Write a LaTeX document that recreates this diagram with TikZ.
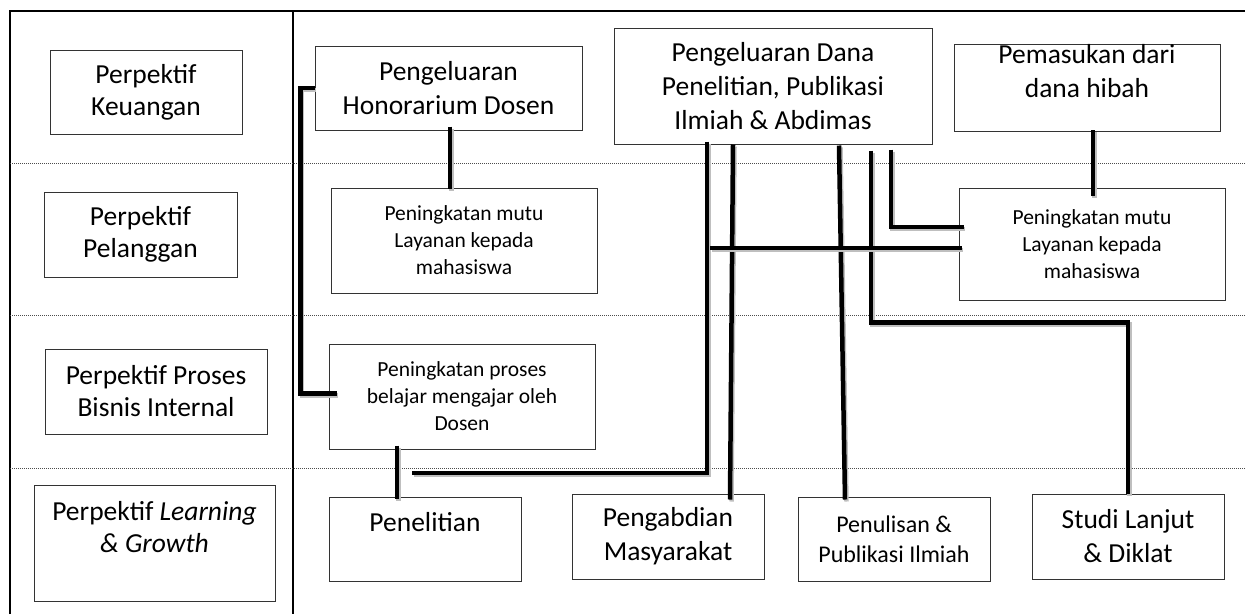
\documentclass[tikz,border=0pt]{standalone}
\usepackage{fontspec}
\setmainfont{Carlito}
\usetikzlibrary{arrows,positioning}
\tikzset{kotak/.style={draw=black!80,line width=1pt,rectangle,align=center,inner sep=0pt}}
\tikzset{hubung/.style={line width=4.5pt,
    preaction={draw=black!25,line width=4.5pt,transform canvas={shift={(1.5pt,-2pt)}}}}}
\tikzset{batas/.style={draw=black!70,line width=0.8pt,dash pattern=on 1pt off 1pt}}
\newcommand{\besar}{\fontsize{27.5}{34}\selectfont}
\newcommand{\kiri}{\fontsize{27.5}{32}\selectfont}
\newcommand{\sedang}{\fontsize{24}{30}\selectfont}
\newcommand{\kecil}{\fontsize{21.5}{27}\selectfont}

\begin{document}
\begin{tikzpicture}[x=1pt,y=-1pt]
  \useasboundingbox (0,0) rectangle (1245,614);
  % frame and rows
  \draw[line width=2pt] (10,614)--(10,11)--(1245,11);
  \draw[line width=2pt] (293,11)--(293,614);
  \foreach \y in {163,315,468}{
    \draw[batas] (10,\y)--(1245,\y);
  };
  % perspectives
  \node[kotak,font=\kiri,minimum width=192,minimum height=84] (keu) at (146,92) {Perpektif\\Keuangan};
  \node[kotak,font=\kiri,minimum width=193,minimum height=85] (pel) at (140.5,234.5) {Perpektif\\Pelanggan};
  \node[kotak,font=\kiri,minimum width=222,minimum height=85] (bis) at (156,391.5) {Perpektif Proses\\Bisnis Internal};
  \node[kotak,font=\kiri,minimum width=241,minimum height=116] (lg) at (154.5,543) {Perpektif \textit{Learning}\\\textit{\& Growth}\\\mbox{}};
  % financial row
  \node[kotak,font=\besar,minimum width=267,minimum height=84] (hono) at (448.5,88) {Pengeluaran\\Honorarium Dosen};
  \node[kotak,font=\besar,minimum width=318,minimum height=116] (dana) at (773,86) {Pengeluaran Dana\\Penelitian, Publikasi\\Ilmiah \& Abdimas};
  \node[kotak,font=\besar,minimum width=266,minimum height=84] (hibah) at (1087,88) {Pemasukan dari\\dana hibah\\\mbox{}};
  % customer row
  \node[kotak,font=\kecil,minimum width=266,minimum height=105] (mutua) at (464,240.5) {Peningkatan mutu\\Layanan kepada\\mahasiswa};
  \node[kotak,font=\kecil,minimum width=266,minimum height=112] (mutub) at (1092,244) {Peningkatan mutu\\Layanan kepada\\mahasiswa};
  % internal process row
  \node[kotak,font=\kecil,minimum width=266,minimum height=105] (proses) at (462,396.5) {Peningkatan proses\\belajar mengajar oleh\\Dosen};
  % learning row
  \node[kotak,font=\besar,minimum width=192,minimum height=84] (neli) at (425,539) {Penelitian\\\mbox{}};
  \node[kotak,font=\besar,minimum width=192,minimum height=85] (abdi) at (668,536.5) {Pengabdian\\Masyarakat};
  \node[kotak,font=\sedang,minimum width=192,minimum height=84] (tulis) at (894,539) {Penulisan \&\\Publikasi Ilmiah};
  \node[kotak,font=\besar,minimum width=192,minimum height=85] (studi) at (1128,536.5) {Studi Lanjut\\\& Diklat};
  \coordinate (ujunga) at (412,473);
  \coordinate (ujungb) at (710,248);
  % links
  \draw[hubung] (hono.west) -- ++(-14,0) |- ([xshift=8pt,yshift=3pt]proses.west);
  \draw[hubung] ([xshift=1.5pt,yshift=4pt]hono.south) -- ([xshift=-14pt,yshift=-1pt]mutua.north);
  \draw[hubung] ([xshift=-65pt,yshift=4pt]proses.south) -- ([xshift=-28pt,yshift=-2pt]neli.north);
  \draw[hubung] ([xshift=-66pt,yshift=3pt]dana.south) |- (ujunga);
  \draw[hubung] ([xshift=-40pt]dana.south) -- ([xshift=62pt,yshift=-6pt]abdi.north);
  \draw[hubung] ([xshift=66pt,yshift=-1pt]dana.south) -- ([xshift=-49pt,yshift=-3pt]tulis.north);
  \draw[hubung] ([xshift=98pt,yshift=-6pt]dana.south) -- ++(0,172) -| (studi.north);
  \draw[hubung] ([xshift=118pt,yshift=-5pt]dana.south) |- ([xshift=5pt,yshift=17pt]mutub.west);
  \draw[hubung] ([xshift=3pt,yshift=-4pt]mutub.west) -- (ujungb);
  \draw[hubung] ([xshift=6pt,yshift=2pt]hibah.south) -- ([xshift=1pt,yshift=-8pt]mutub.north);
\end{tikzpicture}
\end{document}
